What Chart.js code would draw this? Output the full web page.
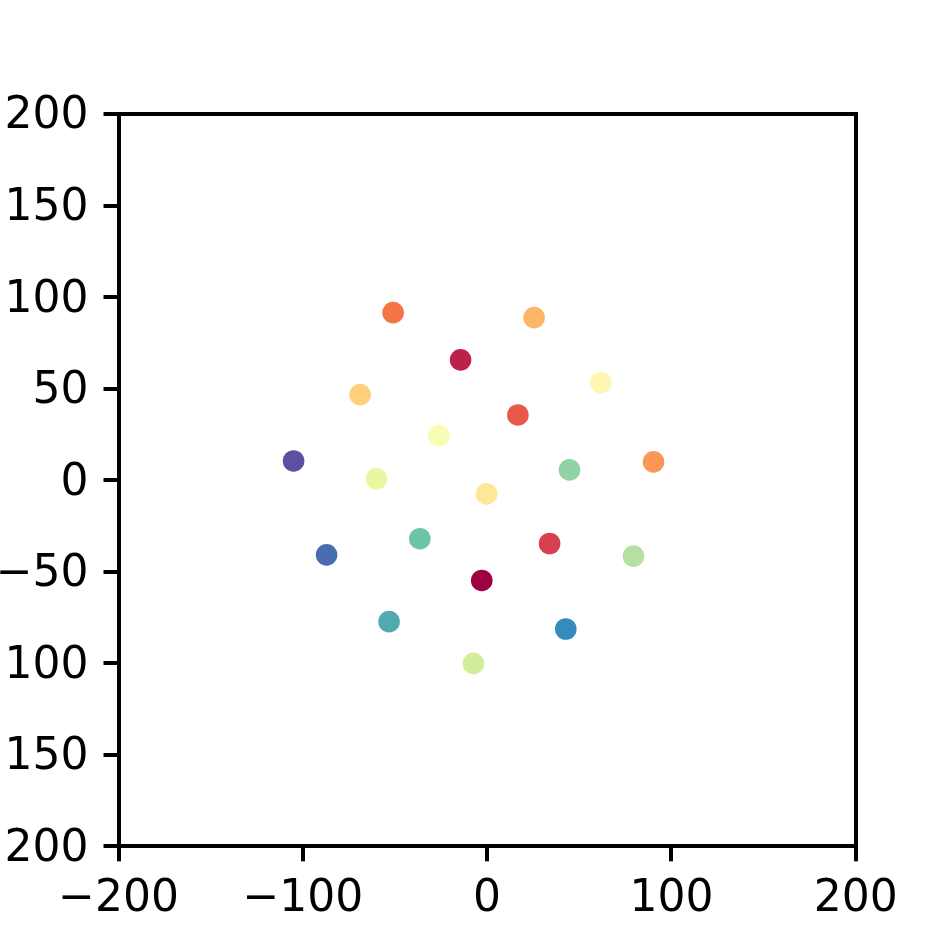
<!DOCTYPE html>
<html lang="en">
<head>
  <meta charset="UTF-8">
  <title>Scatter</title>
  <script src="https://cdn.jsdelivr.net/npm/chart.js"></script>
  <style>
    html,body{margin:0;padding:0;background:#fff;overflow:hidden;width:952px;height:952px}
    #plot{position:absolute;left:-60px;top:0}
  </style>
</head>
<body>
<canvas id="plot" width="1012" height="952"></canvas>
<script>
// point values, listed in colour order (Spectral, dark red -> purple)
const xValues = [-2.9, -14.4, 33.9, 16.7, -51.0, 90.3, 25.5, -68.9, -0.3, 61.7,
                 -26.2, -60.0, -7.4, 79.4, 44.7, -36.5, -53.2, 42.7, -87.1, -105.0];
const yValues = [-54.8, 65.7, -34.6, 35.6, 91.5, 10.0, 88.8, 46.7, -7.5, 53.3,
                 24.3, 0.7, -100.1, -41.5, 5.6, -32.0, -77.3, -81.3, -40.8, 10.5];
const pointColors = ['#9e0142','#bb2149','#d7404e','#e75948','#f57446','#fa9656','#fdb668','#fed07e','#fee797','#fff7b1',
                     '#f8fcb5','#ebf7a0','#d3ed9c','#b4e1a2','#92d3a4','#6dc5a5','#50aaaf','#358bbc','#476db0','#5e4fa2'];
const axisMin = -200, axisMax = 200;
const xStep = 100, yStep = 50;

const points = xValues.map((x,i)=>({x, y:yValues[i]}));
const minus = v => String(v).replace('-', '\u2212');
const font = {family:'DejaVu Sans', size:44};

const mainAxis = (step, pos, pad, shift) => ({
  type:'linear', position:pos, min:axisMin, max:axisMax,
  ticks:{stepSize:step, color:'#000', font, padding:pad, labelOffset:shift, callback:minus},
  grid:{drawOnChartArea:false, drawTicks:true, tickLength:15, lineWidth:4, color:'#000'},
  border:{display:true, color:'#000', width:4}
});
const sideAxis = pos => ({
  type:'linear', position:pos, min:axisMin, max:axisMax,
  ticks:{display:false},
  grid:{display:false, drawTicks:false},
  border:{display:true, color:'#000', width:4}
});

new Chart(document.getElementById('plot'), {
  type:'scatter',
  data:{datasets:[{
    data:points,
    backgroundColor:pointColors,
    borderWidth:0,
    pointRadius:10.8,
    pointHoverRadius:10.8
  }]},
  options:{
    responsive:false,
    animation:false,
    events:[],
    layout:{padding:{left:0, top:114, right:96.3, bottom:0}},
    plugins:{legend:{display:false}, tooltip:{enabled:false}},
    scales:{
      x:{...mainAxis(xStep,'bottom',12,0), afterFit:s=>{s.height=105.7;}},
      y:{...mainAxis(yStep,'left',15,3), afterFit:s=>{s.width=178.5;}},
      x2:{...sideAxis('top'), afterFit:s=>{s.height=0;}},
      y2:{...sideAxis('right'), afterFit:s=>{s.width=0;}}
    }
  }
});
</script>
</body>
</html>
